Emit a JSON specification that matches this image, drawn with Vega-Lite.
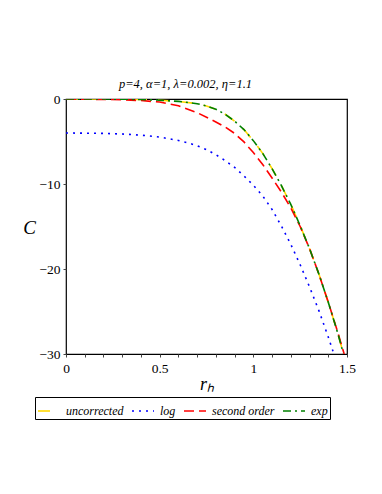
{
  "$schema": "https://vega.github.io/schema/vega-lite/v6.json",
  "autosize": {"type": "none"},
  "padding": {"left": 66, "top": 99, "right": 35, "bottom": 140},
  "width": 281,
  "height": 255,
  "background": "white",
  "config": {
    "font": "Liberation Serif",
    "view": {"stroke": "black", "strokeWidth": 1.2}
  },
  "title": {
    "text": "p=4, α=1, λ=0.002, η=1.1",
    "font": "Liberation Serif",
    "fontStyle": "italic",
    "fontWeight": "normal",
    "fontSize": 12.5,
    "color": "black",
    "anchor": "middle",
    "dx": -21,
    "offset": 2
  },
  "data": {
    "values": [
      {"series": "uncorrected", "r": 0.0, "C": 0.0},
      {"series": "uncorrected", "r": 0.1, "C": 0.0},
      {"series": "uncorrected", "r": 0.2, "C": 0.0},
      {"series": "uncorrected", "r": 0.3, "C": -0.02},
      {"series": "uncorrected", "r": 0.4, "C": -0.06},
      {"series": "uncorrected", "r": 0.5, "C": -0.14},
      {"series": "uncorrected", "r": 0.6, "C": -0.28},
      {"series": "uncorrected", "r": 0.7, "C": -0.55},
      {"series": "uncorrected", "r": 0.75, "C": -0.82},
      {"series": "uncorrected", "r": 0.8, "C": -1.2},
      {"series": "uncorrected", "r": 0.85, "C": -1.8},
      {"series": "uncorrected", "r": 0.9, "C": -2.6},
      {"series": "uncorrected", "r": 0.95, "C": -3.6},
      {"series": "uncorrected", "r": 1.0, "C": -4.9},
      {"series": "uncorrected", "r": 1.05, "C": -6.4},
      {"series": "uncorrected", "r": 1.1, "C": -8.2},
      {"series": "uncorrected", "r": 1.15, "C": -10.2},
      {"series": "uncorrected", "r": 1.2, "C": -12.4},
      {"series": "uncorrected", "r": 1.25, "C": -14.9},
      {"series": "uncorrected", "r": 1.3, "C": -17.6},
      {"series": "uncorrected", "r": 1.35, "C": -20.6},
      {"series": "uncorrected", "r": 1.4, "C": -23.9},
      {"series": "uncorrected", "r": 1.45, "C": -27.5},
      {"series": "uncorrected", "r": 1.48, "C": -29.9},
      {"series": "log", "r": 0.0, "C": -4.0},
      {"series": "log", "r": 0.1, "C": -4.02},
      {"series": "log", "r": 0.2, "C": -4.05},
      {"series": "log", "r": 0.3, "C": -4.12},
      {"series": "log", "r": 0.4, "C": -4.25},
      {"series": "log", "r": 0.5, "C": -4.48},
      {"series": "log", "r": 0.6, "C": -4.88},
      {"series": "log", "r": 0.65, "C": -5.15},
      {"series": "log", "r": 0.7, "C": -5.5},
      {"series": "log", "r": 0.75, "C": -5.95},
      {"series": "log", "r": 0.8, "C": -6.55},
      {"series": "log", "r": 0.85, "C": -7.25},
      {"series": "log", "r": 0.9, "C": -8.05},
      {"series": "log", "r": 0.95, "C": -9.05},
      {"series": "log", "r": 1.0, "C": -10.15},
      {"series": "log", "r": 1.05, "C": -11.4},
      {"series": "log", "r": 1.1, "C": -13.0},
      {"series": "log", "r": 1.15, "C": -14.95},
      {"series": "log", "r": 1.2, "C": -17.1},
      {"series": "log", "r": 1.25, "C": -19.5},
      {"series": "log", "r": 1.3, "C": -22.1},
      {"series": "log", "r": 1.35, "C": -24.9},
      {"series": "log", "r": 1.4, "C": -28.0},
      {"series": "log", "r": 1.43, "C": -30.0},
      {"series": "second order", "r": 0.0, "C": -0.02},
      {"series": "second order", "r": 0.1, "C": -0.03},
      {"series": "second order", "r": 0.2, "C": -0.05},
      {"series": "second order", "r": 0.3, "C": -0.09},
      {"series": "second order", "r": 0.4, "C": -0.18},
      {"series": "second order", "r": 0.5, "C": -0.36},
      {"series": "second order", "r": 0.6, "C": -0.8},
      {"series": "second order", "r": 0.7, "C": -1.6},
      {"series": "second order", "r": 0.8, "C": -2.7},
      {"series": "second order", "r": 0.85, "C": -3.3},
      {"series": "second order", "r": 0.9, "C": -4.05},
      {"series": "second order", "r": 0.95, "C": -5.05},
      {"series": "second order", "r": 1.0, "C": -6.3},
      {"series": "second order", "r": 1.05, "C": -7.7},
      {"series": "second order", "r": 1.1, "C": -9.3},
      {"series": "second order", "r": 1.15, "C": -10.95},
      {"series": "second order", "r": 1.2, "C": -12.8},
      {"series": "second order", "r": 1.25, "C": -15.0},
      {"series": "second order", "r": 1.3, "C": -17.6},
      {"series": "second order", "r": 1.35, "C": -20.6},
      {"series": "second order", "r": 1.4, "C": -23.9},
      {"series": "second order", "r": 1.45, "C": -27.4},
      {"series": "second order", "r": 1.485, "C": -30.0},
      {"series": "exp", "r": 0.0, "C": 0.0},
      {"series": "exp", "r": 0.1, "C": 0.0},
      {"series": "exp", "r": 0.2, "C": 0.0},
      {"series": "exp", "r": 0.3, "C": -0.02},
      {"series": "exp", "r": 0.4, "C": -0.06},
      {"series": "exp", "r": 0.5, "C": -0.14},
      {"series": "exp", "r": 0.6, "C": -0.28},
      {"series": "exp", "r": 0.7, "C": -0.55},
      {"series": "exp", "r": 0.75, "C": -0.82},
      {"series": "exp", "r": 0.8, "C": -1.2},
      {"series": "exp", "r": 0.85, "C": -1.8},
      {"series": "exp", "r": 0.9, "C": -2.6},
      {"series": "exp", "r": 0.95, "C": -3.6},
      {"series": "exp", "r": 1.0, "C": -4.9},
      {"series": "exp", "r": 1.05, "C": -6.4},
      {"series": "exp", "r": 1.1, "C": -8.2},
      {"series": "exp", "r": 1.15, "C": -10.2},
      {"series": "exp", "r": 1.2, "C": -12.4},
      {"series": "exp", "r": 1.25, "C": -14.9},
      {"series": "exp", "r": 1.3, "C": -17.6},
      {"series": "exp", "r": 1.35, "C": -20.6},
      {"series": "exp", "r": 1.4, "C": -23.9},
      {"series": "exp", "r": 1.45, "C": -27.5},
      {"series": "exp", "r": 1.48, "C": -29.9}
    ]
  },
  "mark": {"type": "line", "strokeWidth": 1.6, "clip": true},
  "encoding": {
    "x": {
      "field": "r",
      "type": "quantitative",
      "scale": {"domain": [0, 1.5], "nice": false, "zero": false},
      "axis": {
        "title": "rₕ",
        "titleFont": "Liberation Serif",
        "titleFontStyle": "italic",
        "titleFontWeight": "normal",
        "titleFontSize": 18,
        "titleColor": "black",
        "titlePadding": 1,
        "values": [0, 0.1, 0.2, 0.3, 0.4, 0.5, 0.6, 0.7, 0.8, 0.9, 1, 1.1, 1.2, 1.3, 1.4, 1.5],
        "labelExpr": "(abs(datum.value*2 - round(datum.value*2)) < 0.001) ? format(datum.value, '~g') : ''",
        "labelFont": "Liberation Serif",
        "labelFontSize": 13.5,
        "labelColor": "black",
        "labelPadding": 4,
        "labelFlush": false,
        "labelOverlap": false,
        "domain": false,
        "grid": false,
        "ticks": true,
        "tickSize": 3,
        "tickColor": "#444"
      }
    },
    "y": {
      "field": "C",
      "type": "quantitative",
      "scale": {"domain": [-30, 0], "nice": false, "zero": false},
      "axis": {
        "title": "C",
        "titleFont": "Liberation Serif",
        "titleFontStyle": "italic",
        "titleFontWeight": "normal",
        "titleFontSize": 19,
        "titleColor": "black",
        "titleAngle": 0,
        "titleAlign": "center",
        "titleBaseline": "middle",
        "titleX": -37,
        "titleY": 128,
        "values": [0, -10, -20, -30],
        "labelFont": "Liberation Serif",
        "labelFontSize": 13.5,
        "labelColor": "black",
        "labelPadding": 3,
        "labelFlush": false,
        "domain": false,
        "grid": false,
        "ticks": true,
        "tickSize": 3,
        "tickColor": "#444"
      }
    },
    "color": {
      "field": "series",
      "type": "nominal",
      "sort": ["uncorrected", "log", "second order", "exp"],
      "scale": {
        "domain": ["uncorrected", "log", "second order", "exp"],
        "range": ["#FFD700", "#0000FF", "#FF0000", "#008000"]
      },
      "legend": {
        "title": null,
        "orient": "none",
        "direction": "horizontal",
        "legendX": -31,
        "legendY": 298,
        "strokeColor": "black",
        "fillColor": "white",
        "padding": 2,
        "symbolType": "M-1,0H1",
        "symbolSize": 484,
        "symbolFillColor": "transparent",
        "symbolStrokeWidth": 1.6,
        "labelFont": "Liberation Serif",
        "labelFontStyle": "italic",
        "labelFontSize": 12,
        "labelColor": "black",
        "labelOffset": 5,
        "columnPadding": 4,
        "labelLimit": 200
      }
    },
    "strokeDash": {
      "field": "series",
      "type": "nominal",
      "sort": ["uncorrected", "log", "second order", "exp"],
      "scale": {
        "domain": ["uncorrected", "log", "second order", "exp"],
        "range": [[12, 11], [2, 5], [10, 5], [8, 4, 2, 4]]
      },
      "legend": null
    },
    "order": {"field": "series", "type": "nominal"}
  }
}
